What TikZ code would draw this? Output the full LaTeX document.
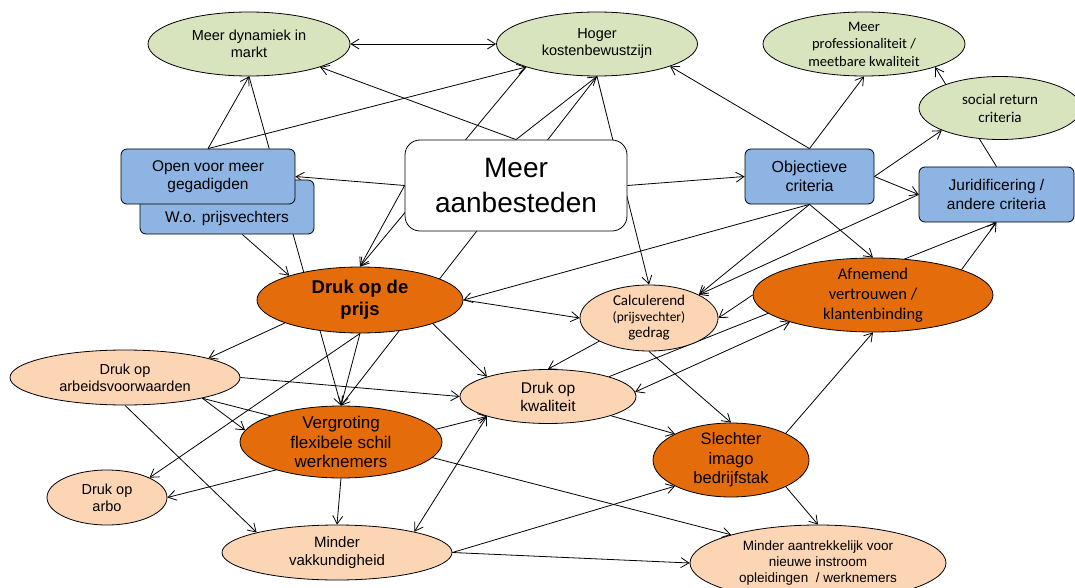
\documentclass[tikz,border=0pt]{standalone}
\usepackage{fontspec}
\setmainfont{Liberation Sans}
\newfontfamily\calfont{Carlito}
\usepackage{tikz}
\usetikzlibrary{shapes.geometric, arrows.meta, backgrounds}

\definecolor{greenfill}{HTML}{D7E4BD}
\definecolor{bluefill}{HTML}{8EB4E3}
\definecolor{orangefill}{HTML}{E46C0A}
\definecolor{peachfill}{HTML}{FCD5B5}

\newcommand{\setfs}[2]{\fontsize{#1}{#2}\selectfont}

\begin{document}
\begin{tikzpicture}[x=1pt, y=-1pt,
        >={Straight Barb[length=8pt,width=10pt]},
        every node/.style={align=center, text=black},
        oval/.style={ellipse, draw=black, line width=0.8pt, inner sep=-4pt},
        goal/.style={oval, fill=greenfill},
        effect/.style={oval, fill=peachfill},
        major/.style={oval, fill=orangefill},
        crit/.style={rectangle, rounded corners=6pt, draw=black, line width=0.8pt, fill=bluefill, inner sep=0pt},
        link/.style={->, line width=0.8pt}
    ]
    \useasboundingbox (0,0) rectangle (1075,588);

    % top row
    \node[goal, minimum width=202pt, minimum height=64pt, font={\setfs{14.5}{17}}]
        (dyn) at (249,44) {Meer dynamiek in\\markt};
    \node[goal, minimum width=201pt, minimum height=64pt, font={\setfs{14.5}{17}}]
        (kost) at (597,44) {Hoger\\kostenbewustzijn};
    \node[goal, minimum width=202pt, minimum height=64pt, font={\calfont\setfs{14.5}{17.5}}]
        (prof) at (864,44) {Meer\\professionaliteit /\\meetbare kwaliteit};
    \node[goal, minimum width=162pt, minimum height=63pt, font={\calfont\setfs{15}{18}}]
        (soc) at (1000,108) {social return\\criteria};

    % boxes
    \node[crit, minimum width=174pt, minimum height=54pt, text height=42.5pt, text depth=11.5pt, font={\setfs{15.5}{18}}]
        (wo) at (227,207) {W.o. prijsvechters};
    \node[crit, minimum width=174pt, minimum height=55pt, font={\setfs{15.5}{18}}]
        (open) at (208,176.5) {Open voor meer\\gegadigden};
    \node[crit, fill=white, rounded corners=15pt, minimum width=222pt, minimum height=91pt, font={\setfs{28}{35}}]
        (meer) at (516,185.5) {Meer\\aanbesteden};
    \node[crit, minimum width=129pt, minimum height=55pt, font={\setfs{16}{19}}]
        (obj) at (809.5,176.5) {Objectieve\\criteria};
    \node[crit, minimum width=155pt, minimum height=55pt, font={\setfs{15.5}{19.5}}]
        (jur) at (996.5,194.5) {Juridificering /\\andere criteria};

    % middle
    \node[major, minimum width=206pt, minimum height=66pt, font={\bfseries\setfs{18.5}{22}}]
        (prijs) at (360,300) {Druk op de\\prijs};
    \node[effect, minimum width=138pt, minimum height=66pt, font={\calfont\setfs{15}{16}}]
        (calc) at (649,318) {Calculerend\\{\setfs{13.5}{16}(prijsvechter)}\\gedrag};
    \node[major, minimum width=240pt, minimum height=74pt, font={\calfont\setfs{16.5}{20}}]
        (vert) at (873,295) {Afnemend\\vertrouwen /\\klantenbinding};
    \node[effect, minimum width=230pt, minimum height=55pt, font={\setfs{14.5}{17}}]
        (arb) at (125,377.5) {Druk op\\arbeidsvoorwaarden};
    \node[effect, minimum width=176pt, minimum height=54pt, font={\setfs{15.5}{18}}]
        (kwal) at (548,396.5) {Druk op\\kwaliteit};
    \node[major, minimum width=202pt, minimum height=72pt, font={\setfs{17}{19.5}}]
        (flex) at (341,442) {Vergroting\\flexibele schil\\werknemers};
    \node[major, minimum width=156pt, minimum height=74pt, font={\setfs{16.5}{19.5}}]
        (imago) at (731,460) {Slechter\\imago\\bedrijfstak};

    % bottom
    \node[effect, minimum width=120pt, minimum height=55pt, font={\setfs{14.5}{17}}]
        (arbo) at (107,497.5) {Druk op\\arbo};
    \node[effect, minimum width=230pt, minimum height=55pt, font={\setfs{15}{18}}]
        (vak) at (337,552.5) {Minder\\vakkundigheid};
    \node[effect, minimum width=256pt, minimum height=76pt, font={\setfs{13.5}{16}}]
        (aantr) at (818,563) {Minder aantrekkelijk voor\\nieuwe instroom\\opleidingen \ / werknemers};

    % connectors, behind the shapes
    \begin{scope}[on background layer]
        \foreach \from/\to in {open.north/dyn.south, dyn.south/flex.north, open.north/kost.198,
                meer.north/dyn.-18, meer.north/kost.south, kost.198/prijs.north,
                meer.west/prijs.north, meer.west/open.east, kost.south/flex.north,
                kost.south/calc.north, obj.north/kost.-17, obj.north/prof.south,
                jur.north/prof.-18, obj.east/soc.201, obj.east/jur.west,
                meer.east/obj.west, obj.south/prijs.east, obj.south/calc.25,
                obj.south/vert.north, jur.west/calc.25, vert.west/calc.east,
                prijs.east/calc.west, calc.205/kwal.north, calc.south/imago.north,
                kwal.18/jur.south, vert.16/jur.south, imago.26/vert.south,
                prijs.197/arb.13, prijs.south/flex.north, prijs.south/arbo.25,
                prijs.-18/kwal.162, arb.east/kwal.west, arb.-15/flex.173,
                arb.-15/aantr.162, arb.south/vak.166, flex.south/vak.north,
                vak.east/imago.205, vak.east/aantr.west, kwal.-17/imago.155,
                imago.-26/aantr.north, wo.-61/prijs.161}
        {
            \draw[link] (\from) -- (\to);
        }

        % two-way
        \draw[link, <->] (dyn.east) -- (kost.west);
        \draw[link, <->] (arbo.east) -- (kwal.198);
        \draw[link, <->] (kwal.198) -- (vak.15);
        \draw[link, <->] (kwal.3) -- (vert.198);
    \end{scope}
\end{tikzpicture}
\end{document}
